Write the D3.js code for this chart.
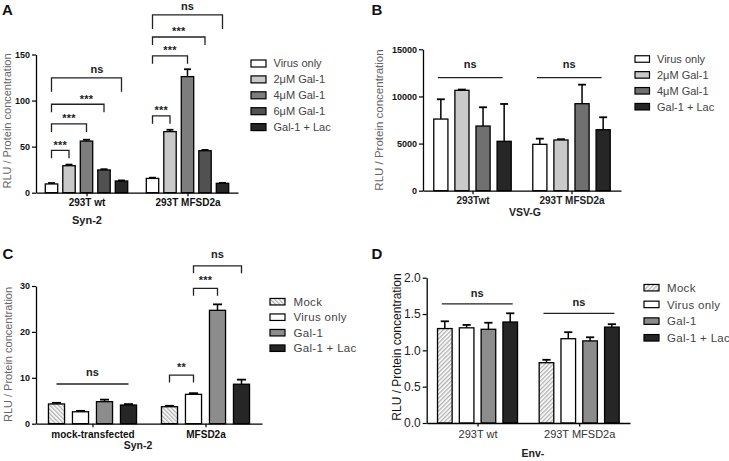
<!DOCTYPE html>
<html><head><meta charset="utf-8">
<script src="https://cdn.jsdelivr.net/npm/d3@7"></script>
<style>
body{margin:0;background:#fff;}
svg{display:block;font-family:"Liberation Sans",Arial,sans-serif;}
</style>
</head><body>
<svg id="chart" width="729" height="461"></svg>
<script>
// ---------- Panel A (Syn-2, galectin doses) ----------
const groupsA = ["293T wt", "293T MFSD2a"];
const seriesA = ["Virus only", "2μM Gal-1", "4μM Gal-1", "6μM Gal-1", "Gal-1 + Lac"];
const valuesA = [[9.5, 29.3, 56, 24.7, 12.7], [15.5, 66.3, 126, 45.6, 10.2]];
const errorsA = [[1.0, 1.2, 1.5, 0.8, 0.6], [0.8, 2.0, 8.0, 0.8, 0.5]];
const ticksA = [0, 50, 100, 150];
const sigA = [
  {g: 0, from: 0, to: 1, y: 46, label: "***"},
  {g: 0, from: 0, to: 2, y: 74.7, label: "***"},
  {g: 0, from: 0, to: 3, y: 96, label: "***", at: 2},
  {g: 0, from: 0, to: 4, y: 124.7, label: "ns", at: 2.6},
  {g: 1, from: 0, to: 1, y: 83.4, label: "***"},
  {g: 1, from: 0, to: 2, y: 148.6, label: "***"},
  {g: 1, from: 0, to: 3, y: 169, label: "***"},
  {g: 1, from: 0, to: 4, y: 193, label: "ns"}
];

// ---------- Panel B (VSV-G) ----------
const groupsB = ["293Twt", "293T MFSD2a"];
const seriesB = ["Virus only", "2μM Gal-1", "4μM Gal-1", "Gal-1 + Lac"];
const valuesB = [[7600, 10650, 6860, 5240], [4920, 5380, 9230, 6470]];
const errorsB = [[2100, 80, 1990, 3960], [600, 80, 2020, 1320]];
const ticksB = [0, 5000, 10000, 15000];
const sigB = [
  {g: 0, from: 0, to: 3, y: 12000, label: "ns", line: true},
  {g: 1, from: 0, to: 3, y: 12000, label: "ns", line: true}
];

// ---------- Panel C (Syn-2, mock vs MFSD2a) ----------
const groupsC = ["mock-transfected", "MFSD2a"];
const seriesC = ["Mock", "Virus only", "Gal-1", "Gal-1 + Lac"];
const valuesC = [[4.3, 2.6, 4.8, 4.07], [3.7, 6.4, 24.7, 8.6]];
const errorsC = [[0.25, 0.2, 0.45, 0.2], [0.2, 0.25, 1.3, 1.0]];
const ticksC = [0, 10, 20, 30];
const sigC = [
  {g: 0, from: 0, to: 3, y: 8.65, label: "ns", line: true},
  {g: 1, from: 0, to: 1, y: 10.6, label: "**"},
  {g: 1, from: 1, to: 2, y: 29.5, label: "***"},
  {g: 1, from: 1, to: 3, y: 34.4, label: "ns"}
];

// ---------- Panel D (Env-) ----------
const groupsD = ["293T wt", "293T MFSD2a"];
const seriesD = ["Mock", "Virus only", "Gal-1", "Gal-1 + Lac"];
const valuesD = [[1.30, 1.31, 1.29, 1.39], [0.83, 1.16, 1.13, 1.32]];
const errorsD = [[0.10, 0.04, 0.09, 0.12], [0.04, 0.09, 0.05, 0.04]];
const ticksD = [0, 0.5, 1.0, 1.5, 2.0];
const sigD = [
  {g: 0, from: 0, to: 3, y: 1.64, label: "ns", line: true},
  {g: 1, from: 0, to: 3, y: 1.51, label: "ns", line: true}
];

const yTitle = "RLU / Protein concentration";

const svg = d3.select("#chart");
const defs = svg.append("defs");
function hatch(id, angle) {
  const p = defs.append("pattern").attr("id", id).attr("patternUnits", "userSpaceOnUse")
    .attr("width", 3).attr("height", 3).attr("patternTransform", `rotate(${angle})`);
  p.append("rect").attr("width", 3).attr("height", 3).attr("fill", "#fff");
  p.append("line").attr("x1", 0.75).attr("y1", 0).attr("x2", 0.75).attr("y2", 3)
    .attr("stroke", "#8a8a8a").attr("stroke-width", 0.9);
}
hatch("hatchC", -45);
hatch("hatchD", 45);

function drawPanel(c) {
  const g = svg.append("g");
  const y = d3.scaleLinear().domain([0, c.yMax]).range([c.y0, c.yTop]);
  const x = d3.scalePoint().domain(c.groups).range([c.x0, c.x1]).padding(0.5);
  const n = c.series.length;
  const inner = d3.scaleBand().domain(d3.range(n))
    .range([-n * c.pitch / 2, n * c.pitch / 2]).paddingInner(c.pad).paddingOuter(c.pad / 2);
  const bw = inner.bandwidth();
  const cx = (gi, si) => x(c.groups[gi]) + inner(Math.floor(si)) + bw / 2 + (si - Math.floor(si)) * inner.step();

  // bars + error bars
  c.values.forEach((vals, gi) => {
    vals.forEach((v, si) => {
      const xc = cx(gi, si);
      const e = c.errors[gi][si];
      g.append("line").attr("x1", xc).attr("x2", xc).attr("y1", y(v)).attr("y2", y(v + e))
        .attr("stroke", "#000").attr("stroke-width", 1.5);
      g.append("line").attr("x1", xc - bw * 0.28).attr("x2", xc + bw * 0.28)
        .attr("y1", y(v + e)).attr("y2", y(v + e)).attr("stroke", "#000").attr("stroke-width", 1.8);
      g.append("rect").attr("x", xc - bw / 2).attr("y", y(v)).attr("width", bw)
        .attr("height", y(0) - y(v)).attr("fill", c.colors[si])
        .attr("stroke", "#000").attr("stroke-width", 1.3);
    });
  });

  // axes
  const ya = d3.axisLeft(y).tickValues(c.ticks).tickSize(4).tickPadding(2).tickSizeOuter(0).tickFormat(c.fmt);
  const yg = g.append("g").attr("transform", `translate(${c.x0},0)`).call(ya);
  yg.select(".domain").attr("stroke-width", 1.3);
  yg.selectAll(".tick line").attr("stroke-width", 1.2);
  yg.selectAll("text").attr("font-size", c.tickFont).attr("font-weight", c.tickWeight)
    .attr("fill", c.tickColor).attr("font-family", "Liberation Sans, Arial, sans-serif");

  const xa = d3.axisBottom(x).tickSize(3.5).tickPadding(c.xPad).tickSizeOuter(0);
  const xg = g.append("g").attr("transform", `translate(0,${c.y0})`).call(xa);
  xg.select(".domain").attr("stroke-width", 1.3);
  xg.selectAll(".tick line").attr("stroke-width", 1.2);
  xg.selectAll("text").attr("font-size", c.grpFont).attr("font-weight", c.grpWeight)
    .attr("fill", c.grpColor).attr("font-family", "Liberation Sans, Arial, sans-serif");

  // significance annotations
  c.sig.forEach(s => {
    const xa1 = cx(s.g, s.from) + (s.line ? c.lineExt[0] : 0);
    const xa2 = cx(s.g, s.to) + (s.line ? c.lineExt[1] : 0);
    const yy = y(s.y);
    if (s.line) {
      g.append("line").attr("x1", xa1).attr("x2", xa2).attr("y1", yy).attr("y2", yy)
        .attr("stroke", "#222").attr("stroke-width", 1.3);
    } else {
      const leg = s.label === "ns" ? c.legNs : c.legStar;
      g.append("path").attr("d", `M${xa1},${yy + leg}V${yy}H${xa2}V${yy + leg}`)
        .attr("fill", "none").attr("stroke", "#222").attr("stroke-width", 1.3);
    }
    const tx = s.at !== undefined ? cx(s.g, s.at) : (xa1 + xa2) / 2;
    const gap = s.label === "ns" ? c.gapNs : c.gapStar;
    g.append("text").attr("x", tx).attr("y", yy - gap).attr("text-anchor", "middle")
      .attr("font-size", 11).attr("font-weight", "bold").attr("fill", "#222")
      .attr("letter-spacing", s.label === "ns" ? 0 : 0.3).text(s.label);
  });

  // y title
  g.append("text").attr("transform", `translate(${c.ytX},${c.ytY}) rotate(-90)`)
    .attr("text-anchor", "middle").attr("font-size", c.ytFont).attr("fill", c.ytColor).text(yTitle);
  // x title
  g.append("text").attr("x", c.xtX).attr("y", c.xtY).attr("text-anchor", "middle")
    .attr("font-size", c.xtFont).attr("font-weight", "bold").attr("fill", "#222").text(c.xTitle);
  // panel letter
  g.append("text").attr("x", c.lx).attr("y", c.ly).attr("font-size", 15).attr("font-weight", "bold")
    .attr("fill", "#111").text(c.letter);

  // legend
  const L = c.legend;
  c.series.forEach((name, si) => {
    const yc = L.y + si * L.dy;
    g.append("rect").attr("x", L.x).attr("y", yc - L.h / 2).attr("width", L.w).attr("height", L.h)
      .attr("fill", c.colors[si]).attr("stroke", "#000").attr("stroke-width", 1.2);
    g.append("text").attr("x", L.tx).attr("y", yc).attr("dy", "0.36em").attr("font-size", L.font)
      .attr("fill", "#444").attr("letter-spacing", L.ls).text(name);
  });
}

drawPanel({
  letter: "A", lx: 2, ly: 15,
  groups: groupsA, series: seriesA, values: valuesA, errors: errorsA, ticks: ticksA, sig: sigA,
  yMax: 150, x0: 36, x1: 238, y0: 192.7, yTop: 54.5, pitch: 17.5, pad: 0.29,
  colors: ["#ffffff", "#c9c9c9", "#7d7d7d", "#515151", "#262626"],
  fmt: d3.format("d"), tickFont: 9, tickWeight: "bold", tickColor: "#111",
  xPad: 3, grpFont: 10, grpWeight: "bold", grpColor: "#111",
  legStar: 8, legNs: 14, gapStar: 1.5, gapNs: 5, lineExt: [0, 0],
  ytX: 10.5, ytY: 121, ytFont: 11, ytColor: "#666",
  xTitle: "Syn-2", xtX: 87, xtY: 223.5, xtFont: 11,
  legend: {x: 251, y: 63.5, dy: 15.9, w: 15, h: 7, tx: 273.5, font: 11, ls: 0}
});

drawPanel({
  letter: "B", lx: 371.5, ly: 15,
  groups: groupsB, series: seriesB, values: valuesB, errors: errorsB, ticks: ticksB, sig: sigB,
  yMax: 15000, x0: 423, x1: 621, y0: 190.7, yTop: 49.3, pitch: 21.1, pad: 0.33,
  colors: ["#ffffff", "#c9c9c9", "#707070", "#262626"],
  fmt: d3.format("d"), tickFont: 9, tickWeight: "bold", tickColor: "#111",
  xPad: 2.5, grpFont: 10, grpWeight: "bold", grpColor: "#222",
  legStar: 8, legNs: 8, gapStar: 2, gapNs: 10, lineExt: [-3, -1.5],
  ytX: 383, ytY: 120, ytFont: 11.5, ytColor: "#666",
  xTitle: "VSV-G", xtX: 525, xtY: 215.5, xtFont: 10.5,
  legend: {x: 635, y: 59, dy: 15.9, w: 14.5, h: 6.5, tx: 657, font: 11, ls: 0}
});

drawPanel({
  letter: "C", lx: 2.5, ly: 258.5,
  groups: groupsC, series: seriesC, values: valuesC, errors: errorsC, ticks: ticksC, sig: sigC,
  yMax: 30, x0: 36, x1: 262, y0: 423.7, yTop: 286, pitch: 24, pad: 0.33,
  colors: ["url(#hatchC)", "#ffffff", "#8c8c8c", "#262626"],
  fmt: d3.format("d"), tickFont: 9, tickWeight: "bold", tickColor: "#111",
  xPad: 3.5, grpFont: 10, grpWeight: "bold", grpColor: "#111",
  legStar: 7.5, legNs: 7.5, gapStar: 4, gapNs: 8, lineExt: [0, 0],
  ytX: 11.5, ytY: 354.5, ytFont: 11, ytColor: "#666",
  xTitle: "Syn-2", xtX: 138, xtY: 448.5, xtFont: 10.5,
  legend: {x: 270, y: 301.7, dy: 15.5, w: 15, h: 6.5, tx: 293.5, font: 11.5, ls: 0.3}
});

drawPanel({
  letter: "D", lx: 371.5, ly: 258.5,
  groups: groupsD, series: seriesD, values: valuesD, errors: errorsD, ticks: ticksD, sig: sigD,
  yMax: 2, x0: 426.7, x1: 630, y0: 423, yTop: 277.7, pitch: 21.8, pad: 0.33,
  colors: ["url(#hatchD)", "#ffffff", "#8c8c8c", "#262626"],
  fmt: d3.format(".1f"), tickFont: 12, tickWeight: "normal", tickColor: "#222",
  xPad: 3.5, grpFont: 11, grpWeight: "normal", grpColor: "#333",
  legStar: 8, legNs: 8, gapStar: 2, gapNs: 7, lineExt: [-3, 2.5],
  ytX: 401, ytY: 347, ytFont: 12, ytColor: "#111",
  xTitle: "Env-", xtX: 533, xtY: 457, xtFont: 10.5,
  legend: {x: 644, y: 287.7, dy: 16.7, w: 15, h: 6.5, tx: 667, font: 11.5, ls: 0.3}
});
</script>
</body></html>
